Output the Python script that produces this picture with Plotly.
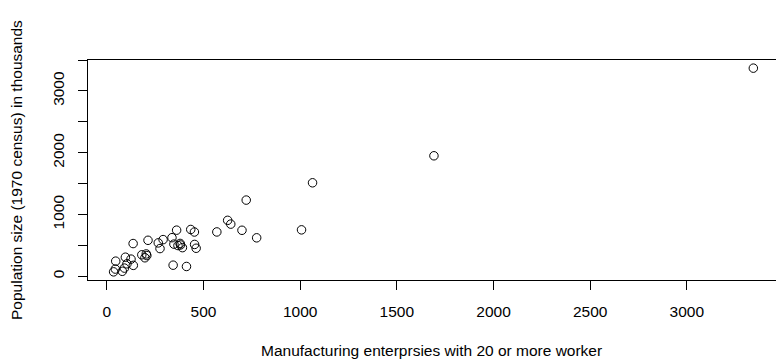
import plotly.graph_objects as go

cities = ["Albany","Albuquerque","Atlanta","Baltimore","Buffalo","Charleston","Chicago",
          "Cincinnati","Cleveland","Columbus","Dallas","Denver","Des Moines","Detroit",
          "Hartford","Houston","Indianapolis","Jacksonville","Kansas City","Little Rock",
          "Louisville","Memphis","Miami","Milwaukee","Minneapolis","Nashville","New Orleans",
          "Norfolk","Omaha","Philadelphia","Phoenix","Pittsburgh","Providence","Richmond",
          "Salt Lake City","San Francisco","Seattle","St. Louis","Washington","Wichita","Wilmington"]
manu = [44, 46, 368, 625, 391, 35, 3344, 462, 1007, 266, 641, 454, 104, 1064, 412, 721, 361,
        136, 381, 91, 291, 337, 207, 569, 699, 275, 204, 96, 181, 1692, 213, 347, 343, 197,
        137, 453, 379, 775, 434, 125, 80]
popul = [116, 244, 497, 905, 463, 71, 3369, 453, 751, 540, 844, 515, 201, 1513, 158, 1233, 746,
         529, 507, 132, 593, 624, 335, 717, 744, 448, 361, 308, 347, 1950, 582, 520, 179, 299,
         176, 716, 531, 622, 757, 277, 80]

x_ticks = [0, 500, 1000, 1500, 2000, 2500, 3000]
y_ticks = [0, 500, 1000, 1500, 2000, 2500, 3000, 3500]
y_ticktext = ["0", "", "1000", "", "2000", "", "3000", ""]

x_title = "Manufacturing enterprsies with 20 or more worker"
y_title = "Population size (1970 census) in thousands"

font = dict(family="Liberation Sans, Arial, sans-serif", size=15.5, color="black")

fig = go.Figure(go.Scatter(
    x=manu, y=popul, mode="markers", text=cities,
    marker=dict(symbol="circle-open", size=8.5, color="black", line=dict(width=1, color="black")),
))

fig.update_layout(
    width=776, height=361,
    margin=dict(l=88, r=0, t=60, b=81),
    paper_bgcolor="white", plot_bgcolor="white",
    showlegend=False, font=font,
    xaxis=dict(range=[-97.4, 3461.2], tickvals=x_ticks, ticktext=[str(v) for v in x_ticks],
               showgrid=False, zeroline=False, showline=True, linecolor="black", linewidth=1,
               mirror=True, ticks="outside", ticklen=9, tickcolor="black", tickwidth=1,
               ticklabelstandoff=8, tickfont=font),
    yaxis=dict(range=[-60.9, 3500.9], tickvals=y_ticks, ticktext=y_ticktext,
               showgrid=False, zeroline=False, showline=True, linecolor="black", linewidth=1,
               ticks="outside", ticklen=9, tickcolor="black", tickwidth=1,
               tickangle=-90, ticklabelstandoff=8, tickfont=font),
    annotations=[
        dict(text=x_title, xref="paper", yref="paper", x=(431 - 88) / 688, y=(361 - 350 - 81) / 220,
             xanchor="center", yanchor="middle", showarrow=False, font=font),
        dict(text=y_title, textangle=-90, xref="paper", yref="paper", x=(16 - 88) / 688, y=0.5,
             xanchor="center", yanchor="middle", showarrow=False, font=font),
    ],
)

fig.write_html("out.html", config={"displayModeBar": False},
               post_script="document.body.style.margin='0';")
